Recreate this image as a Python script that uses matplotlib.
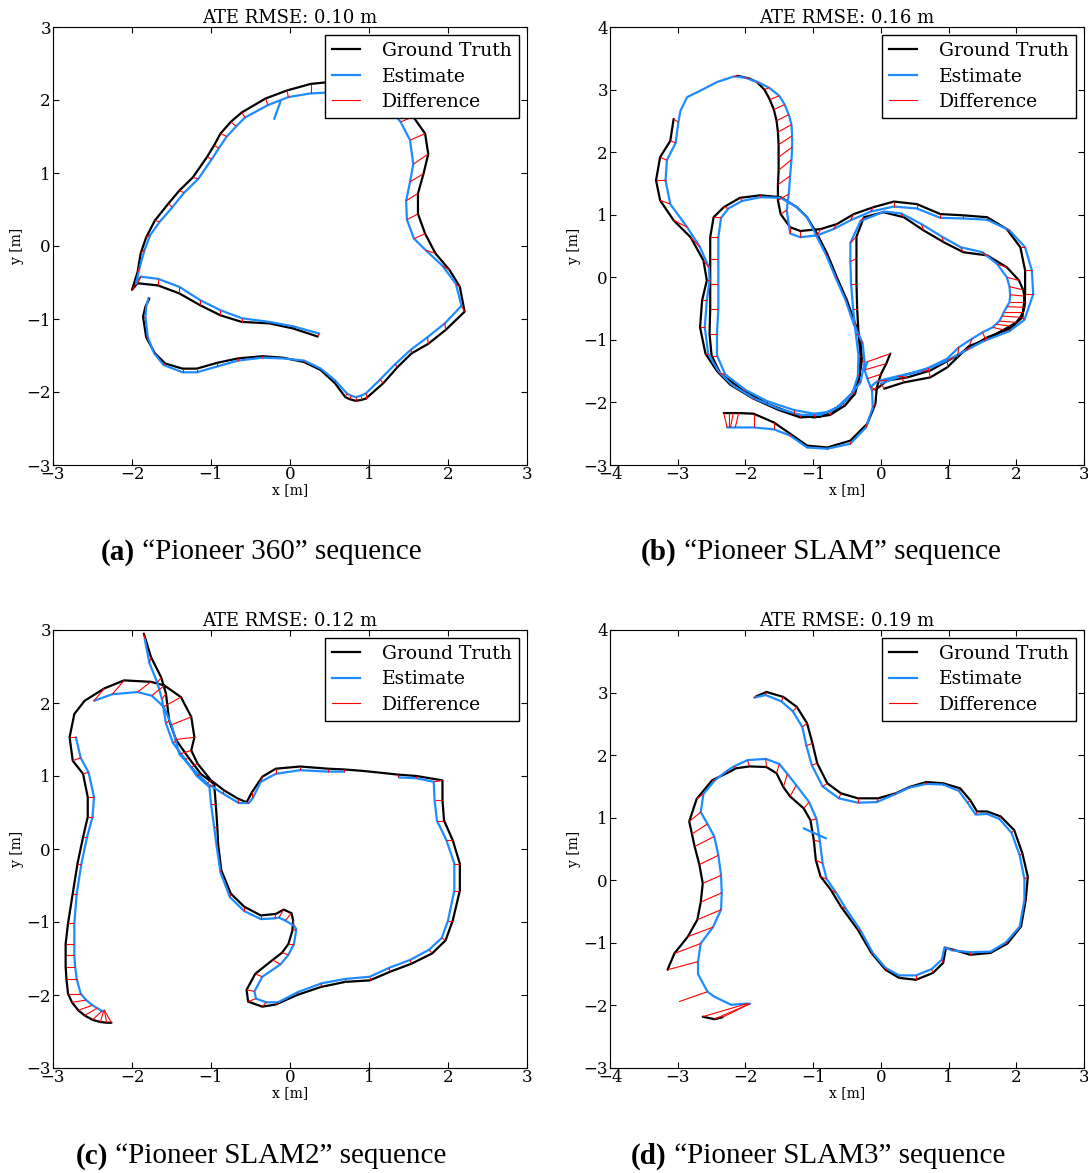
import matplotlib
matplotlib.use("Agg")
import matplotlib.pyplot as plt
import numpy as np
from matplotlib.collections import LineCollection
from matplotlib.lines import Line2D

plt.rcParams['font.family'] = 'DejaVu Serif'
plt.rcParams['font.size'] = 12

EST_COLOR = '#1e8cff'

titles = ["ATE RMSE: 0.10 m", "ATE RMSE: 0.16 m", "ATE RMSE: 0.12 m", "ATE RMSE: 0.19 m"]
captions = [("(a)", "\u201cPioneer 360\u201d sequence"),
            ("(b)", "\u201cPioneer SLAM\u201d sequence"),
            ("(c)", "\u201cPioneer SLAM2\u201d sequence"),
            ("(d)", "\u201cPioneer SLAM3\u201d sequence")]
xlims = [(-3, 3), (-4, 3), (-3, 3), (-4, 3)]
ylims = [(-3, 3), (-3, 4), (-3, 3), (-3, 4)]

# ground truth / estimate, matched point by point (None = no pose)
a_gt = [
    (0.35, -1.24), (0.04, -1.13), (-0.26, -1.06), (-0.61, -1.04), (-0.88, -0.95), (-1.14, -0.81), (-1.40, -0.65), (-1.67, -0.54), (-1.93, -0.51), (-2.00, -0.60),
    (-1.93, -0.36), (-1.89, -0.10), (-1.82, 0.12), (-1.71, 0.35), (-1.54, 0.58), (-1.40, 0.76), (-1.23, 0.94), (-1.05, 1.22), (-0.96, 1.38), (-0.88, 1.54),
    (-0.75, 1.70), (-0.61, 1.83), (-0.31, 2.02), (-0.04, 2.13), (0.26, 2.22), (0.44, 2.24), (0.80, 2.24), (1.15, 2.12), (1.45, 1.92), (1.56, 1.77),
    (1.71, 1.54), (1.75, 1.26), (1.69, 0.99), (1.62, 0.72), (1.62, 0.44), (1.71, 0.17), (1.84, -0.10), (2.02, -0.33), (2.15, -0.56), (2.21, -0.90),
    (1.97, -1.15), (1.75, -1.34), (1.54, -1.47), (1.36, -1.66), (1.18, -1.88), (0.96, -2.09), (0.90, -2.11), (0.83, -2.12), (0.76, -2.10), (0.70, -2.07),
    (0.57, -1.88), (0.39, -1.70), (0.18, -1.59), (-0.09, -1.53), (-0.35, -1.51), (-0.66, -1.54), (-0.92, -1.60), (-1.18, -1.68), (-1.36, -1.68), (-1.58, -1.61),
    (-1.71, -1.47), (-1.82, -1.25), (-1.86, -0.97), (-1.83, -0.83), (-1.78, -0.72), None, None, None]
a_est = [
    (0.37, -1.20), (0.04, -1.10), (-0.26, -1.04), (-0.61, -0.99), (-0.88, -0.88), (-1.14, -0.74), (-1.40, -0.56), (-1.67, -0.45), (-1.89, -0.42), (-1.95, -0.52),
    (-1.90, -0.28), (-1.84, -0.05), (-1.77, 0.15), (-1.65, 0.33), (-1.49, 0.53), (-1.34, 0.73), (-1.16, 0.92), (-0.99, 1.19), (-0.90, 1.34), (-0.80, 1.50),
    (-0.68, 1.64), (-0.57, 1.76), (-0.28, 1.93), (-0.02, 2.04), (0.26, 2.09), (0.44, 2.10), (0.80, 2.10), (1.10, 2.00), (1.32, 1.80), (1.40, 1.70),
    (1.52, 1.45), (1.56, 1.12), (1.52, 0.88), (1.47, 0.62), (1.48, 0.36), (1.57, 0.10), (1.72, -0.06), (1.93, -0.27), (2.10, -0.52), (2.17, -0.82),
    (1.96, -1.06), (1.74, -1.25), (1.53, -1.42), (1.33, -1.62), (1.14, -1.83), (0.96, -2.02), (0.90, -2.05), (0.83, -2.07), (0.77, -2.05), (0.72, -2.02),
    (0.57, -1.84), (0.39, -1.68), (0.18, -1.57), (-0.09, -1.54), (-0.35, -1.53), (-0.66, -1.57), (-0.92, -1.65), (-1.18, -1.73), (-1.36, -1.73), (-1.60, -1.63),
    (-1.72, -1.47), (-1.80, -1.25), (-1.83, -0.97), (-1.82, -0.83), (-1.79, -0.71), None, (-0.20, 1.74), (-0.12, 1.98)]

b_gt = [
    (-2.32, -2.17), (-2.25, -2.17), (-2.18, -2.17), (-2.10, -2.17), (-1.88, -2.18), (-1.58, -2.32), (-1.34, -2.50), (-1.09, -2.69), (-0.79, -2.72), (-0.45, -2.61),
    (-0.20, -2.34), (-0.08, -2.02), (-0.06, -1.76), (0.00, -1.55), (0.08, -1.38), (0.14, -1.22), None,
    (0.05, -1.78), (0.34, -1.68), (0.73, -1.60), (0.98, -1.44), (1.13, -1.28), (1.30, -1.10), (1.55, -1.00), (1.81, -0.84), (1.91, -0.78), (2.00, -0.72),
    (2.06, -0.64), (2.10, -0.55), (2.12, -0.48), (2.13, -0.40), (2.12, -0.30), (2.10, -0.20), (2.04, -0.05), (1.86, 0.16), (1.57, 0.35), (1.22, 0.40),
    (0.93, 0.56), (0.63, 0.75), (0.34, 0.96), (0.04, 1.04),
    (-0.25, 0.96), (-0.36, 0.65), (-0.36, 0.30), (-0.36, -0.10), (-0.35, -0.50), (-0.33, -0.90), (-0.30, -1.25), (-0.31, -1.55),
    (-0.38, -1.86), (-0.53, -2.05), (-0.75, -2.20), (-0.99, -2.24), (-1.29, -2.18), (-1.68, -2.02), (-2.03, -1.81), (-2.37, -1.54), (-2.50, -1.25),
    (-2.53, -0.90), (-2.52, -0.50), (-2.52, -0.10), (-2.52, 0.30), (-2.52, 0.64), (-2.47, 0.96), (-2.32, 1.12), (-2.08, 1.27), (-1.78, 1.31), (-1.48, 1.28),
    (-1.24, 1.12), (-1.09, 0.96), (-0.94, 0.69), (-0.79, 0.37), (-0.65, 0.00), (-0.50, -0.37), (-0.38, -0.74), (-0.30, -1.01), (-0.28, -1.33), (-0.33, -1.65),
    (-0.45, -1.90), (-0.65, -2.10), (-0.89, -2.22), (-1.19, -2.24), (-1.51, -2.12), (-1.88, -1.94), (-2.22, -1.72), (-2.42, -1.50), (-2.59, -1.22), (-2.67, -0.80),
    (-2.64, -0.37), (-2.57, -0.05), (-2.62, 0.27), (-2.81, 0.64), (-3.06, 0.91), (-3.26, 1.23), (-3.32, 1.55), (-3.26, 1.92), (-3.11, 2.18), (-3.06, 2.53),
    None, None, None, None,
    (-2.12, 3.22), (-1.95, 3.18), (-1.83, 3.12), (-1.72, 3.00), (-1.64, 2.84), (-1.58, 2.68), (-1.54, 2.50), (-1.52, 2.32), (-1.51, 2.12), (-1.51, 1.92),
    (-1.51, 1.71), (-1.52, 1.48), (-1.52, 1.23), (-1.48, 1.01), (-1.34, 0.80), (-1.19, 0.74),
    (-0.89, 0.77), (-0.65, 0.85), (-0.40, 1.01), (-0.11, 1.12), (0.19, 1.21), (0.53, 1.17), (0.88, 1.01), (1.22, 0.99), (1.57, 0.96), (1.86, 0.77),
    (2.06, 0.48), (2.13, 0.11), (2.13, -0.27), (2.09, -0.64), (1.91, -0.82), (1.57, -0.96), (1.32, -1.12), (1.08, -1.28), (0.73, -1.49), (0.39, -1.60),
    (0.09, -1.65), (-0.08, -1.80)]
b_est = [
    (-2.27, -2.40), (-2.25, -2.40), (-2.22, -2.40), (-2.15, -2.40), (-1.88, -2.40), (-1.58, -2.43), (-1.34, -2.53), (-1.09, -2.72), (-0.79, -2.74), (-0.45, -2.66),
    (-0.22, -2.40), (-0.12, -2.08), (-0.13, -1.81), (-0.20, -1.62), (-0.24, -1.48), (-0.20, -1.35), None,
    (0.00, -1.70), (0.30, -1.58), (0.70, -1.45), (0.98, -1.30), (1.15, -1.12), (1.35, -0.98), (1.50, -0.88), (1.65, -0.80), (1.70, -0.75), (1.75, -0.70),
    (1.79, -0.62), (1.82, -0.55), (1.86, -0.47), (1.90, -0.40), (1.91, -0.28), (1.90, -0.15), (1.86, 0.00), (1.72, 0.21), (1.50, 0.40), (1.18, 0.48),
    (0.90, 0.65), (0.60, 0.85), (0.30, 1.02), (0.05, 1.05),
    (-0.30, 0.90), (-0.45, 0.55), (-0.45, 0.25), (-0.44, -0.10), (-0.41, -0.50), (-0.37, -0.90), (-0.33, -1.25), (-0.34, -1.58),
    (-0.42, -1.85), (-0.56, -2.02), (-0.75, -2.15), (-0.99, -2.18), (-1.29, -2.12), (-1.68, -1.98), (-2.00, -1.80), (-2.30, -1.55), (-2.42, -1.25),
    (-2.42, -0.90), (-2.40, -0.50), (-2.40, -0.10), (-2.40, 0.30), (-2.40, 0.64), (-2.36, 0.95), (-2.25, 1.10), (-2.05, 1.22), (-1.78, 1.28), (-1.48, 1.27),
    (-1.24, 1.12), (-1.09, 0.96), (-0.96, 0.68), (-0.81, 0.36), (-0.67, 0.00), (-0.52, -0.37), (-0.40, -0.75), (-0.27, -1.05), (-0.24, -1.35), (-0.30, -1.68),
    (-0.45, -1.88), (-0.65, -2.08), (-0.89, -2.20), (-1.19, -2.20), (-1.51, -2.10), (-1.88, -1.93), (-2.20, -1.72), (-2.40, -1.50), (-2.55, -1.22), (-2.60, -0.80),
    (-2.57, -0.37), (-2.53, -0.05), (-2.54, 0.16), (-2.67, 0.48), (-2.86, 0.80), (-3.11, 1.17), (-3.18, 1.55), (-3.16, 1.87), (-3.03, 2.15), (-2.99, 2.48),
    (-2.96, 2.66), (-2.86, 2.88), (-2.67, 2.98), (-2.42, 3.12),
    (-2.17, 3.21), (-2.00, 3.19), (-1.80, 3.11), (-1.65, 3.03), (-1.50, 2.90), (-1.42, 2.76), (-1.36, 2.60), (-1.32, 2.44), (-1.31, 2.26), (-1.31, 2.08),
    (-1.32, 1.88), (-1.34, 1.62), (-1.36, 1.33), (-1.39, 1.07), (-1.34, 0.70), (-1.19, 0.64),
    (-0.94, 0.67), (-0.70, 0.77), (-0.45, 0.91), (-0.15, 1.05), (0.19, 1.13), (0.53, 1.10), (0.88, 0.95), (1.22, 0.94), (1.57, 0.92), (1.90, 0.75),
    (2.13, 0.48), (2.23, 0.11), (2.25, -0.27), (2.12, -0.68), (1.90, -0.86), (1.52, -1.02), (1.25, -1.17), (0.98, -1.33), (0.60, -1.50), (0.25, -1.58),
    (-0.05, -1.66), (-0.15, -1.75)]

c_gt = [
    (-1.85, 2.95), (-1.76, 2.63), (-1.63, 2.35), (-1.57, 2.13), (-1.53, 1.76), (-1.44, 1.49), (-1.29, 1.26), (-1.13, 1.03), (-0.96, 0.89), (-0.94, 0.62),
    (-0.92, 0.30), (-0.91, 0.07), (-0.87, -0.29), (-0.75, -0.61), (-0.58, -0.79), (-0.37, -0.91), (-0.18, -0.89), (-0.08, -0.83), (0.02, -0.88), (0.04, -0.98),
    (0.03, -1.12), (-0.02, -1.30), (-0.10, -1.42), (-0.22, -1.52), (-0.44, -1.71), (-0.55, -1.93), (-0.53, -2.09), (-0.35, -2.16), (-0.18, -2.13), (0.09, -2.00),
    (0.39, -1.89), (0.70, -1.82), (1.01, -1.80), (1.27, -1.68), (1.54, -1.57), (1.80, -1.43), (1.97, -1.25), (2.06, -0.98), (2.15, -0.57), (2.15, -0.20),
    (2.06, 0.12), (1.95, 0.39), (1.93, 0.67), (1.93, 0.94), (1.60, 1.00), (1.36, 1.02), (1.10, 1.05), (0.92, 1.07), (0.68, 1.09), (0.48, 1.10),
    (0.13, 1.13), (-0.18, 1.10), (-0.35, 0.99), (-0.48, 0.78), (-0.55, 0.64), (-0.66, 0.69), (-0.83, 0.80), (-1.00, 0.94), (-1.17, 1.17), (-1.25, 1.35),
    (-1.21, 1.53), (-1.25, 1.81), (-1.38, 2.08), (-1.59, 2.24), (-1.76, 2.29), (-2.10, 2.31), (-2.35, 2.20), (-2.60, 2.03), (-2.73, 1.85), (-2.79, 1.53),
    (-2.75, 1.21), (-2.62, 1.03), (-2.56, 0.71), (-2.56, 0.44), (-2.62, 0.16), (-2.69, -0.20), (-2.75, -0.61), (-2.81, -1.02), (-2.84, -1.30), (-2.84, -1.45),
    (-2.84, -1.61), (-2.83, -1.78), (-2.81, -1.98), (-2.76, -2.10), (-2.68, -2.21), (-2.60, -2.28), (-2.50, -2.34), (-2.40, -2.37), (-2.32, -2.38), (-2.26, -2.38)]
c_est = [
    (-1.84, 2.88), (-1.78, 2.55), (-1.68, 2.28), (-1.62, 2.05), (-1.57, 1.72), (-1.48, 1.45), (-1.32, 1.22), (-1.18, 1.00), (-1.02, 0.85), (-1.00, 0.62),
    (-0.96, 0.30), (-0.93, 0.05), (-0.88, -0.32), (-0.76, -0.66), (-0.58, -0.85), (-0.37, -0.96), (-0.19, -0.95), (-0.14, -0.94), (-0.06, -0.98), (0.05, -1.05),
    (0.08, -1.10), (0.05, -1.30), (-0.02, -1.45), (-0.12, -1.58), (-0.35, -1.75), (-0.45, -1.95), (-0.43, -2.05), (-0.30, -2.10), (-0.15, -2.10), (0.10, -1.96),
    (0.40, -1.84), (0.70, -1.78), (1.01, -1.75), (1.25, -1.63), (1.52, -1.52), (1.76, -1.38), (1.92, -1.22), (2.00, -0.98), (2.08, -0.57), (2.08, -0.20),
    (1.98, 0.12), (1.86, 0.39), (1.83, 0.67), (1.82, 0.92), (1.60, 0.97), (1.38, 0.98), None, None, (0.68, 1.06), (0.48, 1.06),
    (0.13, 1.08), (-0.18, 1.03), (-0.37, 0.92), (-0.47, 0.70), (-0.52, 0.63), (-0.65, 0.63), (-0.85, 0.76), (-1.05, 0.90), (-1.25, 1.12), (-1.40, 1.30),
    (-1.45, 1.50), (-1.50, 1.70), (-1.60, 1.95), (-1.75, 2.10), (-1.93, 2.15), (-2.25, 2.12), (-2.48, 2.03), None, None, (-2.71, 1.53),
    (-2.65, 1.25), (-2.55, 1.05), (-2.48, 0.71), (-2.50, 0.44), (-2.57, 0.16), (-2.64, -0.20), (-2.70, -0.61), (-2.73, -1.02), (-2.73, -1.30), (-2.73, -1.45),
    (-2.72, -1.61), (-2.70, -1.78), (-2.65, -1.98), (-2.58, -2.07), (-2.50, -2.14), (-2.44, -2.18), (-2.38, -2.22), (-2.36, -2.22), (-2.35, -2.21), (-2.35, -2.21)]

d_gt = [
    (-1.84, 2.94), (-1.69, 3.01), (-1.44, 2.93), (-1.24, 2.77), (-1.09, 2.51), (-1.01, 2.19), (-0.94, 1.87), (-0.79, 1.55), (-0.59, 1.39), (-0.34, 1.31),
    (-0.04, 1.31), (0.22, 1.39), (0.42, 1.49), (0.67, 1.57), (0.92, 1.55), (1.17, 1.47), (1.32, 1.28), (1.42, 1.10), (1.57, 1.10), (1.77, 1.02),
    (1.97, 0.80), (2.09, 0.43), (2.17, 0.06), (2.14, -0.31), (2.07, -0.74), (1.87, -1.01), (1.62, -1.16), (1.32, -1.19), (1.07, -1.11), (0.96, -1.08),
    (0.92, -1.32), (0.77, -1.48), (0.52, -1.59), (0.27, -1.56), (0.07, -1.43), (-0.14, -1.16), (-0.34, -0.79), (-0.59, -0.42), (-0.74, -0.15), (-0.89, 0.06),
    (-0.96, 0.32), (-0.99, 0.64), (-1.04, 0.96), (-1.14, 1.15), (-1.34, 1.34), (-1.44, 1.49), (-1.54, 1.71), (-1.69, 1.81), (-1.94, 1.82), (-2.14, 1.79),
    (-2.24, 1.73), (-2.49, 1.60), (-2.72, 1.30), (-2.83, 0.94), (-2.79, 0.74), (-2.75, 0.54), (-2.68, 0.25), (-2.63, -0.05), (-2.66, -0.35), (-2.71, -0.63),
    (-2.85, -0.90), (-3.05, -1.17), (-3.15, -1.43), None, (-2.98, -1.94), None, None, (-2.63, -2.18), (-2.46, -2.22), (-2.34, -2.19),
    None, None, None]
d_est = [
    (-1.87, 2.92), (-1.70, 2.96), (-1.47, 2.86), (-1.30, 2.70), (-1.16, 2.45), (-1.10, 2.15), (-1.02, 1.84), (-0.86, 1.50), (-0.62, 1.31), (-0.34, 1.24),
    (-0.06, 1.25), (0.20, 1.37), (0.42, 1.48), (0.67, 1.54), (0.92, 1.53), (1.15, 1.43), (1.28, 1.24), (1.40, 1.05), (1.57, 1.06), (1.75, 0.98),
    (1.93, 0.76), (2.05, 0.40), (2.12, 0.02), (2.12, -0.31), (2.05, -0.74), (1.85, -0.99), (1.62, -1.14), (1.32, -1.15), (1.05, -1.12), (0.94, -1.07),
    (0.90, -1.27), (0.75, -1.42), (0.52, -1.52), (0.27, -1.52), (0.07, -1.40), (-0.12, -1.16), (-0.30, -0.80), (-0.52, -0.45), (-0.66, -0.20), (-0.80, 0.02),
    (-0.86, 0.27), (-0.90, 0.62), (-0.95, 0.98), (-1.06, 1.25), (-1.25, 1.52), (-1.38, 1.70), (-1.50, 1.86), (-1.70, 1.94), (-1.97, 1.92), (-2.17, 1.82),
    (-2.27, 1.75), (-2.45, 1.60), (-2.62, 1.38), (-2.66, 1.09), (-2.56, 0.90), (-2.46, 0.70), (-2.40, 0.40), (-2.36, 0.08), (-2.35, -0.20), (-2.36, -0.47),
    (-2.48, -0.75), (-2.66, -1.01), (-2.70, -1.30), (-2.70, -1.50), (-2.56, -1.78), (-2.46, -1.86), (-2.21, -1.99), (-1.97, -1.97), (-1.95, -1.98), (-1.93, -1.97),
    None, (-1.14, 0.83), (-0.81, 0.67)]

panels = [(a_gt, a_est), (b_gt, b_est), (c_gt, c_est), (d_gt, d_est)]


def to_xy(points):
    arr = np.array([(np.nan, np.nan) if p is None else p for p in points], dtype=float)
    return arr[:, 0], arr[:, 1]


def draw_panel(ax, gt, est, title, xlim, ylim):
    gx, gy = to_xy(gt)
    ex, ey = to_xy(est)
    ax.plot(gx, gy, '-', color='black', lw=1.6, solid_joinstyle='round', solid_capstyle='round')
    ax.plot(ex, ey, '-', color=EST_COLOR, lw=1.6, solid_joinstyle='round', solid_capstyle='round')
    ok = np.isfinite(gx) & np.isfinite(ex)
    segs = [[(gx[i], gy[i]), (ex[i], ey[i])] for i in np.where(ok)[0]]
    ax.add_collection(LineCollection(segs, colors='red', linewidths=0.8))

    ax.set_xlim(*xlim)
    ax.set_ylim(*ylim)
    ax.set_xticks(range(xlim[0], xlim[1] + 1))
    ax.set_yticks(range(ylim[0], ylim[1] + 1))
    ax.tick_params(direction='in', top=True, right=True, length=4, labelsize=12)
    ax.tick_params(axis='x', pad=1)
    ax.tick_params(axis='y', pad=1.5)
    ax.set_title(title, fontsize=13, pad=3)
    ax.set_xlabel('x [m]', fontsize=10, labelpad=0)
    ax.set_ylabel('y [m]', fontsize=10, labelpad=2)

    handles = [Line2D([], [], color='black', lw=1.6),
               Line2D([], [], color=EST_COLOR, lw=1.6),
               Line2D([], [], color='red', lw=0.8)]
    leg = ax.legend(handles, ['Ground Truth', 'Estimate', 'Difference'],
                    loc='upper right', fontsize=13.5, fancybox=False, framealpha=1,
                    borderaxespad=0.45, borderpad=0.35, labelspacing=0.4,
                    handlelength=1.5, handletextpad=1.2)
    leg.get_frame().set_edgecolor('black')
    leg.get_frame().set_linewidth(1.0)


W, H = 1088, 1173
fig = plt.figure(figsize=(W / 100, H / 100), dpi=100)

ax_boxes = [(53, 27, 527, 465), (610, 27, 1084, 465),
            (53, 630, 527, 1068), (610, 630, 1084, 1068)]
caption_pos = [(261, 552), (821, 552), (261, 1156), (818, 1156)]

for i, (x0, y0, x1, y1) in enumerate(ax_boxes):
    ax = fig.add_axes([x0 / W, 1 - y1 / H, (x1 - x0) / W, (y1 - y0) / H])
    gt, est = panels[i]
    draw_panel(ax, gt, est, titles[i], xlims[i], ylims[i])

# captions: bold label + normal text, centred together
renderer = fig.canvas.get_renderer()
cap_font = ['Liberation Serif', 'DejaVu Serif']
for (lab, txt), (cx, cy) in zip(captions, caption_pos):
    t1 = fig.text(0, 1 - cy / H, lab, fontsize=21, fontweight='bold',
                  family=cap_font, ha='left', va='center')
    t2 = fig.text(0, 1 - cy / H, ' ' + txt, fontsize=21,
                  family=cap_font, ha='left', va='center')
    w1 = t1.get_window_extent(renderer).width
    w2 = t2.get_window_extent(renderer).width
    start = cx - (w1 + w2) / 2
    t1.set_x(start / W)
    t2.set_x((start + w1) / W)

fig.savefig('out.png', dpi=100)
